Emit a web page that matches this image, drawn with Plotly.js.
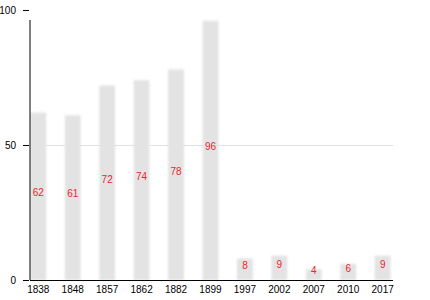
<!DOCTYPE html>
<html><head><meta charset="utf-8">
<script src="https://cdn.plot.ly/plotly-3.0.1.min.js"></script>
<style>
html,body{margin:0;padding:0;background:#fff;}
#chart{width:430px;height:300px;}
.bars path{filter:blur(1.2px);}
</style>
</head><body>
<div id="chart"></div>
<script>
const years = ['1838','1848','1857','1862','1882','1899','1997','2002','2007','2010','2017'];
const values = [62, 61, 72, 74, 78, 96, 8, 9, 4, 6, 9];

const bars = {
  type: 'bar', x: years, y: values, width: 0.46,
  marker: {color: '#e3e3e3', line: {width: 0}},
  hoverinfo: 'none'
};
const labels = {
  type: 'scatter', mode: 'text', x: years, y: values.map(v => v / 2 + 1),
  text: values.map(String), textposition: 'middle center',
  textfont: {family: 'Liberation Sans, Arial, sans-serif', size: 10, color: '#e8262e'},
  hoverinfo: 'none'
};
const layout = {
  width: 430, height: 300,
  margin: {l: 30, r: 37, t: 10, b: 20},
  paper_bgcolor: '#fff', plot_bgcolor: '#fff',
  showlegend: false,
  font: {family: 'Liberation Sans, Arial, sans-serif', size: 10, color: '#000'},
  xaxis: {
    type: 'category', range: [-0.24, 10.3],
    showgrid: false, showline: true, linecolor: '#000', linewidth: 1,
    ticks: '', tickfont: {size: 10}, zeroline: false, fixedrange: true
  },
  yaxis: {
    range: [0, 100], tickvals: [0, 50, 100],
    showgrid: true, gridcolor: '#e2e2e2', gridwidth: 1,
    showline: false, ticks: 'outside', ticklen: 6, tickcolor: '#000',
    ticklabelstandoff: 5,
    tickfont: {size: 10}, zeroline: false, fixedrange: true
  },
  shapes: [{type: 'line', xref: 'paper', yref: 'paper', x0: 0, x1: 0, y0: 0, y1: 0.963,
            line: {color: '#000', width: 1}}]
};
Plotly.newPlot('chart', [bars, labels], layout, {displayModeBar: false, staticPlot: true});
</script>
</body></html>
